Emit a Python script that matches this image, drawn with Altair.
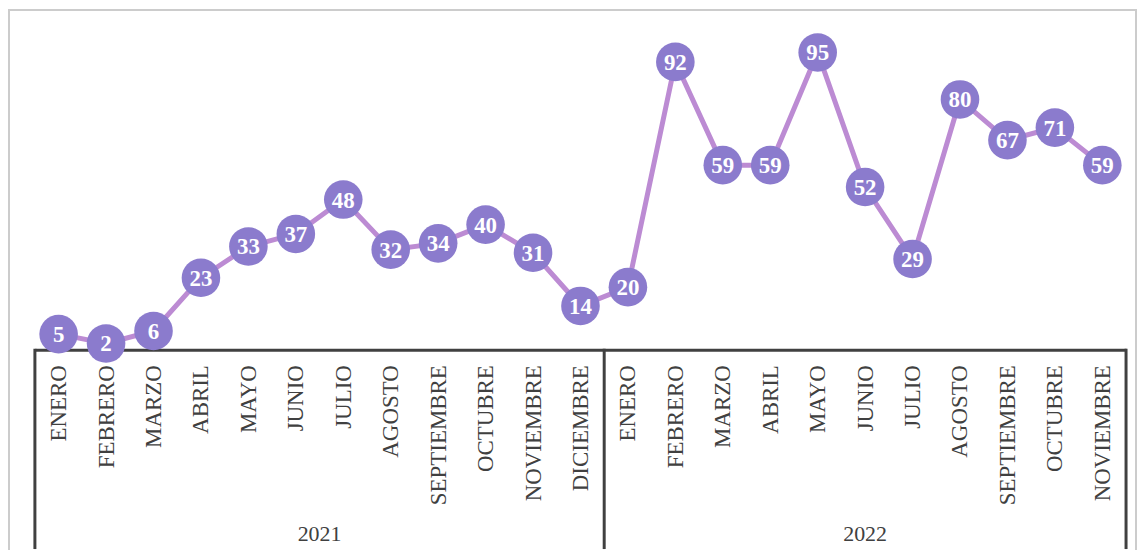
import json
import altair as alt
import pandas as pd

months = ["ENERO", "FEBRERO", "MARZO", "ABRIL", "MAYO", "JUNIO", "JULIO", "AGOSTO",
          "SEPTIEMBRE", "OCTUBRE", "NOVIEMBRE", "DICIEMBRE",
          "ENERO", "FEBRERO", "MARZO", "ABRIL", "MAYO", "JUNIO", "JULIO", "AGOSTO",
          "SEPTIEMBRE", "OCTUBRE", "NOVIEMBRE"]
values = [5, 2, 6, 23, 33, 37, 48, 32, 34, 40, 31, 14,
          20, 92, 59, 59, 95, 52, 29, 80, 67, 71, 59]
years = ["2021", "2022"]
year_centers = [5.5, 17]
separators = [-0.5, 11.5, 22.5]

FONT = "Liberation Serif"
W, H = 1095, 314

df = pd.DataFrame({"i": list(range(len(values))), "v": values, "m": months})
yr = pd.DataFrame({"x": year_centers, "year": years})
sep = pd.DataFrame({"x": separators})

label_expr = json.dumps(months) + "[datum.value]"

xscale = alt.Scale(domain=[-0.5, 22.5], nice=False, zero=False)
yscale = alt.Scale(domain=[0, 100], nice=False)

x_axis = alt.Axis(values=list(range(len(values))), labelExpr=label_expr,
                  labelAngle=270, labelFont=FONT, labelFontSize=23,
                  labelColor="#404040", labelPadding=15, ticks=False, grid=False,
                  domain=True, domainColor="#404040", domainWidth=3, title=None)

base = alt.Chart(df)

line = base.mark_line(color="#BC8BD3", strokeWidth=5).encode(
    x=alt.X("i:Q", scale=xscale, axis=x_axis),
    y=alt.Y("v:Q", scale=yscale, axis=None),
)
dots = base.mark_circle(size=1500, color="#8B7BCD", opacity=1).encode(
    x=alt.X("i:Q", scale=xscale),
    y=alt.Y("v:Q", scale=yscale),
)
labels = base.mark_text(font=FONT, fontSize=23, fontWeight="bold", color="white",
                        baseline="middle", align="center", dy=1).encode(
    x=alt.X("i:Q", scale=xscale),
    y=alt.Y("v:Q", scale=yscale),
    text="v:Q",
)
seps = alt.Chart(sep).mark_rule(color="#404040", strokeWidth=3).encode(
    x=alt.X("x:Q", scale=xscale),
    y=alt.value(H - 1),
    y2=alt.value(H + 200),
)
year_text = alt.Chart(yr).mark_text(font=FONT, fontSize=22, color="#404040",
                                    baseline="middle", align="center").encode(
    x=alt.X("x:Q", scale=xscale),
    y=alt.value(H + 185),
    text="year:N",
)
frame = alt.Chart(sep).mark_rect(fill=None, stroke="#CCCCCC", strokeWidth=2).encode(
    x=alt.value(-26), x2=alt.value(1105), y=alt.value(-27), y2=alt.value(H + 260),
)

chart = alt.layer(frame, seps, line, dots, labels, year_text).properties(
    width=W, height=H,
    autosize=alt.AutoSizeParams(type="none"),
    padding={"left": 27, "top": 28, "right": 12, "bottom": 200},
).configure_view(stroke=None)

chart.save("out.html", embed_options={"renderer": "svg", "actions": False})
